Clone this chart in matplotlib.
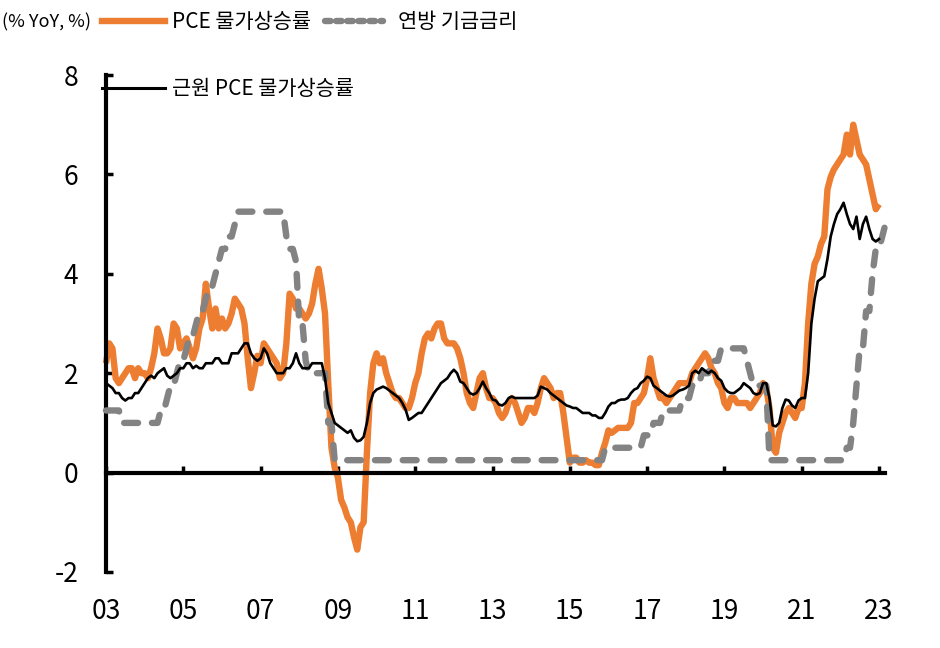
import matplotlib
matplotlib.use('Agg')
import matplotlib.pyplot as plt
from matplotlib.lines import Line2D
import numpy as np

plt.rcParams['font.family'] = ['Noto Sans CJK KR', 'DejaVu Sans']
plt.rcParams['axes.unicode_minus'] = False
plt.rcParams['lines.scale_dashes'] = False

# monthly values, Jan 2003 onward
pce = [2.2, 2.6, 2.5, 1.9, 1.8, 1.9, 2.0, 2.1, 2.1, 1.9, 2.1, 2.0,
       2.0, 1.9, 2.1, 2.4, 2.9, 2.7, 2.4, 2.4, 2.5, 3.0, 2.9, 2.5,
       2.6, 2.7, 2.5, 2.3, 2.5, 2.9, 3.1, 3.8, 3.3, 2.9, 3.3, 2.9,
       3.1, 2.9, 3.0, 3.2, 3.5, 3.4, 3.3, 3.0, 2.3, 1.7, 2.0, 2.35,
       2.2, 2.6, 2.5, 2.4, 2.3, 2.2, 1.9, 2.0, 2.6, 3.6, 3.5, 3.3,
       3.3, 3.2, 3.1, 3.2, 3.4, 3.8, 4.1, 3.7, 3.2, 1.8, 0.5, 0.1,
       -0.1, -0.55, -0.7, -0.9, -1.0, -1.3, -1.55, -1.1, -1.0, 0.4, 1.6, 2.2,
       2.4, 2.2, 2.3, 2.0, 1.8, 1.6, 1.5, 1.5, 1.4, 1.3, 1.3, 1.5,
       1.8, 2.0, 2.4, 2.7, 2.8, 2.7, 2.9, 3.0, 3.0, 2.7, 2.6, 2.6,
       2.6, 2.5, 2.3, 2.0, 1.6, 1.4, 1.3, 1.6, 1.9, 2.0, 1.7, 1.5,
       1.5, 1.4, 1.2, 1.1, 1.2, 1.4, 1.5, 1.4, 1.2, 1.0, 1.1, 1.3,
       1.3, 1.2, 1.4, 1.7, 1.9, 1.8, 1.7, 1.5, 1.6, 1.6, 1.2, 0.7,
       0.2, 0.3, 0.3, 0.2, 0.2, 0.25, 0.2, 0.2, 0.15, 0.15, 0.4, 0.6,
       0.85, 0.8, 0.85, 0.9, 0.9, 0.9, 0.9, 1.0, 1.4, 1.4, 1.5, 1.6,
       1.9, 2.3, 1.9, 1.7, 1.5, 1.5, 1.4, 1.5, 1.6, 1.7, 1.8, 1.8,
       1.8, 1.8, 2.0, 2.1, 2.2, 2.3, 2.4, 2.3, 2.1, 2.0, 1.8, 1.7,
       1.4, 1.3, 1.5, 1.5, 1.4, 1.4, 1.4, 1.4, 1.3, 1.4, 1.5, 1.6,
       1.8, 1.7, 1.3, 0.5, 0.4, 0.8, 1.0, 1.2, 1.3, 1.2, 1.1, 1.3,
       1.3, 1.8, 3.0, 3.8, 4.2, 4.35, 4.6, 4.75, 5.7, 5.95, 6.1, 6.2,
       6.3, 6.4, 6.8, 6.4, 7.0, 6.7, 6.4, 6.3, 6.2, 5.9, 5.6, 5.3,
       5.4]

core = [1.8, 1.75, 1.7, 1.6, 1.6, 1.5, 1.45, 1.5, 1.5, 1.6, 1.6, 1.7,
        1.8, 1.9, 1.95, 1.9, 2.0, 2.05, 2.1, 1.95, 1.9, 1.95, 2.0, 2.1,
        2.1, 2.2, 2.2, 2.1, 2.15, 2.1, 2.1, 2.2, 2.2, 2.2, 2.3, 2.3,
        2.2, 2.2, 2.2, 2.4, 2.4, 2.4, 2.5, 2.6, 2.6, 2.4, 2.3, 2.25,
        2.3, 2.5, 2.4, 2.2, 2.1, 2.0, 2.0, 2.0, 2.1, 2.1, 2.2, 2.4,
        2.2, 2.1, 2.1, 2.1, 2.2, 2.2, 2.2, 2.2, 1.9, 1.4, 1.2, 1.0,
        0.95, 0.9, 0.85, 0.8, 0.85, 0.7, 0.63, 0.65, 0.72, 1.0, 1.4, 1.6,
        1.67, 1.7, 1.73, 1.7, 1.65, 1.6, 1.55, 1.5, 1.4, 1.27, 1.06, 1.1,
        1.15, 1.2, 1.2, 1.3, 1.4, 1.5, 1.6, 1.7, 1.8, 1.85, 1.9, 2.0,
        2.07, 2.0, 1.83, 1.8, 1.7, 1.6, 1.57, 1.6, 1.7, 1.83, 1.7, 1.6,
        1.47, 1.45, 1.37, 1.35, 1.4, 1.5, 1.53, 1.5, 1.5, 1.5, 1.5, 1.5,
        1.5, 1.5, 1.55, 1.73, 1.7, 1.67, 1.6, 1.55, 1.5, 1.45, 1.4, 1.35,
        1.33, 1.3, 1.3, 1.25, 1.2, 1.2, 1.2, 1.15, 1.15, 1.1, 1.1, 1.2,
        1.33, 1.4, 1.4, 1.45, 1.47, 1.47, 1.5, 1.6, 1.67, 1.7, 1.8, 1.85,
        1.93, 1.9, 1.75, 1.7, 1.65, 1.6, 1.55, 1.53, 1.55, 1.6, 1.65, 1.67,
        1.7, 1.75, 2.0, 2.05, 2.0, 2.1, 2.05, 2.0, 2.05, 2.0, 1.9, 1.85,
        1.7, 1.63, 1.6, 1.6, 1.65, 1.7, 1.8, 1.75, 1.7, 1.6, 1.57, 1.6,
        1.8, 1.8, 1.5, 0.95, 0.93, 1.0, 1.3, 1.47, 1.45, 1.35, 1.3, 1.45,
        1.5, 1.5, 2.0, 3.0, 3.5, 3.85, 3.9, 3.95, 4.3, 4.75, 5.0, 5.2,
        5.3, 5.43, 5.2, 5.0, 4.9, 5.15, 4.7, 5.0, 5.15, 4.9, 4.7, 4.65,
        4.7]

fed = [1.25, 1.25, 1.25, 1.25, 1.25, 1.0, 1.0, 1.0, 1.0, 1.0, 1.0, 1.0,
       1.0, 1.0, 1.0, 1.0, 1.0, 1.25, 1.25, 1.5, 1.75, 1.75, 2.0, 2.25,
       2.25, 2.5, 2.75, 2.75, 3.0, 3.25, 3.25, 3.5, 3.75, 3.75, 4.0, 4.25,
       4.5, 4.5, 4.75, 4.75, 5.0, 5.25, 5.25, 5.25, 5.25, 5.25, 5.25, 5.25,
       5.25, 5.25, 5.25, 5.25, 5.25, 5.25, 5.25, 5.25, 4.75, 4.5, 4.5, 4.25,
       3.0, 3.0, 2.25, 2.0, 2.0, 2.0, 2.0, 2.0, 2.0, 1.0, 1.0, 0.25] \
    + [0.25] * 83 + [0.5] \
    + [0.5] * 11 + [0.75] \
    + [0.75, 0.75, 1.0, 1.0, 1.0, 1.25, 1.25, 1.25, 1.25, 1.25, 1.25, 1.5] \
    + [1.5, 1.5, 1.75, 1.75, 1.75, 2.0, 2.0, 2.0, 2.25, 2.25, 2.25, 2.5] \
    + [2.5, 2.5, 2.5, 2.5, 2.5, 2.5, 2.5, 2.25, 2.0, 1.75, 1.75, 1.75] \
    + [1.75, 1.75] + [0.25] * 10 \
    + [0.25] * 12 \
    + [0.25, 0.25, 0.5, 0.5, 1.0, 1.75, 2.5, 2.5, 3.25, 3.25, 4.0, 4.5] \
    + [4.5, 4.75, 5.0]

years = list(range(2003, 2024, 2))
year_labels = ['%02d' % (y % 100) for y in years]

t_pce = 2003 + np.arange(len(pce)) / 12
t_core = 2003 + np.arange(len(core)) / 12
t_fed = 2003 + np.arange(len(fed)) / 12

orange = '#ED7D31'
grey = '#838383'

fig = plt.figure(figsize=(9.4, 6.48), dpi=100)
ax = fig.add_axes([106/940, 76/648, 779/940, 497/648])

ax.plot(t_pce, pce, color=orange, lw=4.6, solid_capstyle='butt', zorder=2, clip_on=False)
ax.plot(t_fed, fed, color=grey, lw=4.6, dashes=(10, 10), dash_capstyle='round', zorder=3, clip_on=False)
ax.plot(t_core, core, color='black', lw=1.9, zorder=4, clip_on=False)

ax.set_xlim(2003, 2023.155)
ax.set_ylim(-2, 8)
ax.spines['top'].set_visible(False)
ax.spines['right'].set_visible(False)
ax.spines['bottom'].set_position(('data', 0))
ax.spines['left'].set_linewidth(3)
ax.spines['bottom'].set_linewidth(3)

ax.set_xticks(years)
ax.set_xticklabels(year_labels)
ax.set_yticks([-2, 0, 2, 4, 6, 8])
ax.tick_params(axis='x', direction='in', length=5, width=2.5, pad=90, labelsize=19)
ax.tick_params(axis='y', direction='in', length=5, width=2.5, pad=20, labelsize=19)

fig.text(2/940, 1 - 22/648, '(% YoY, %)', fontsize=13, va='center', ha='left')

def add_key(handle, label, x_px, y_px, hl, tp):
    fig.legend([handle], [label], loc='center left',
               bbox_to_anchor=(x_px/940, 1 - y_px/648), frameon=False,
               borderpad=0, borderaxespad=0, handlelength=hl,
               handletextpad=tp, fontsize=15)

add_key(Line2D([], [], color=orange, lw=4.6), 'PCE 물가상승률', 102, 22, 3.0, 0.38)
add_key(Line2D([], [], color=grey, lw=4.6, dashes=(4, 4), dash_capstyle='round'),
        '연방 기금금리', 325, 22, 2.78, 0.7)
add_key(Line2D([], [], color='black', lw=2.2), '근원 PCE 물가상승률', 102, 89, 3.0, 0.38)

plt.savefig('out.png', dpi=100)
